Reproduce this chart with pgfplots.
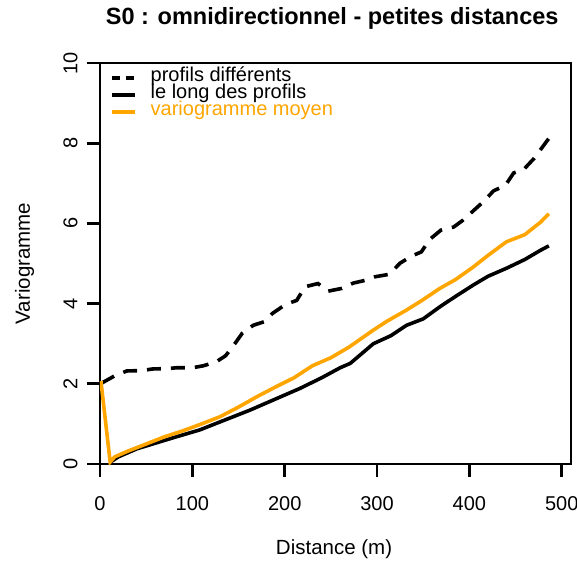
\documentclass[border=0pt]{standalone}
\usepackage{pgfplots}
\pgfplotsset{compat=1.18}
\usepackage{fontspec}
\setmainfont{Liberation Sans}
\definecolor{rorange}{HTML}{FFA500}

\begin{document}
\begin{tikzpicture}
\begin{axis}[
    name=ax,
    scale only axis,
    width=471pt, height=401pt,
    xmin=0, xmax=510, ymin=0, ymax=10,
    axis line style={line width=2.8pt},
    every tick/.style={black, line width=2.8pt},
    tick align=outside,
    major tick length=13pt,
    xtick={0,100,...,500},
    ytick={0,2,...,10},
    xtick pos=bottom, ytick pos=left,
    font=\fontsize{20.5}{20.5}\selectfont,
    ticklabel style={font=\fontsize{20}{20}\selectfont},
    /pgf/number format/assume math mode=true,
    xticklabel style={anchor=north, yshift=-16pt},
    yticklabel style={rotate=90, anchor=south, yshift=6pt},
    title={S0 : omnidirectionnel - petites distances},
    title style={at={(axis description cs:0.493,1.095)}, anchor=center,
        font=\fontsize{23.5}{23.5}\selectfont\bfseries},
    xlabel={Distance (m)},
    xlabel style={at={(axis description cs:0.497,-0.212)}, anchor=center},
    ylabel={Variogramme},
    ylabel style={at={(axis description cs:-0.16,0.5)}, anchor=center},
    legend style={at={(axis description cs:0.021,0.985)}, anchor=north west,
        draw=none, fill=none, inner sep=0pt, row sep=0pt,
        font=\fontsize{20}{20}\selectfont,
        nodes={inner sep=0pt, text height=12pt, text depth=5pt},
        /tikz/every odd column/.append style={column sep=14pt}},
    legend cell align=left,
    legend image code/.code={\draw[#1] (0pt,0pt) -- (23pt,0pt);},
]
% profils differents
\addplot[black, line width=3.6pt, dash pattern=on 14pt off 10pt,
    legend image code/.code={\draw[black, line width=3.6pt, dash pattern=on 8pt off 6pt] (0pt,0pt) -- (23pt,0pt);}]
coordinates {
(2,2.02) (16,2.2) (29,2.32) (45,2.33) (57,2.37) (73,2.38) (83,2.40) (100,2.40)
(112,2.45) (126,2.55) (136,2.7) (146,3.0) (154,3.26) (166,3.46) (178,3.55)
(187,3.76) (201,3.98) (213,4.08) (222,4.42) (236,4.50) (247,4.31) (262,4.38)
(274,4.51) (287,4.58) (298,4.67) (313,4.73) (325,5.01) (337,5.18) (348,5.29)
(357,5.6) (369,5.83) (383,5.91) (393,6.08) (405,6.33) (416,6.56) (426,6.81)
(439,6.95) (448,7.26) (459,7.35) (470,7.62) (478,7.87) (486,8.12)
};
\addlegendentry{profils différents}
% le long des profils
\addplot[black, line width=3.6pt] coordinates {
(12,0.06) (20,0.18) (40,0.38) (60,0.52) (80,0.66) (108,0.85) (130,1.05)
(162,1.34) (190,1.62) (216,1.88) (240,2.15) (260,2.40) (271,2.51) (296,3.0)
(315,3.2) (332,3.46) (350,3.62) (368,3.92) (385,4.18) (404,4.46) (420,4.68)
(440,4.88) (460,5.1) (477,5.33) (486,5.44)
};
\addlegendentry{le long des profils}
% variogramme moyen
\addplot[rorange, line width=3.6pt] coordinates {
(1,2.07) (11,0.05) (16,0.18) (30,0.32) (50,0.5) (70,0.68) (90,0.83) (110,1.0)
(130,1.18) (150,1.42) (170,1.68) (190,1.92) (210,2.15) (230,2.45) (250,2.65)
(270,2.92) (296,3.34) (310,3.55) (332,3.84) (350,4.1) (368,4.38) (385,4.6)
(404,4.91) (420,5.2) (440,5.54) (460,5.72) (477,6.03) (486,6.24)
};
\addlegendentry{\textcolor{rorange}{variogramme moyen}}
\end{axis}
\pgfresetboundingbox
\path ([xshift=-100pt,yshift=-99pt]ax.south west) rectangle ([xshift=6pt,yshift=63pt]ax.north east);
\end{tikzpicture}
\end{document}
